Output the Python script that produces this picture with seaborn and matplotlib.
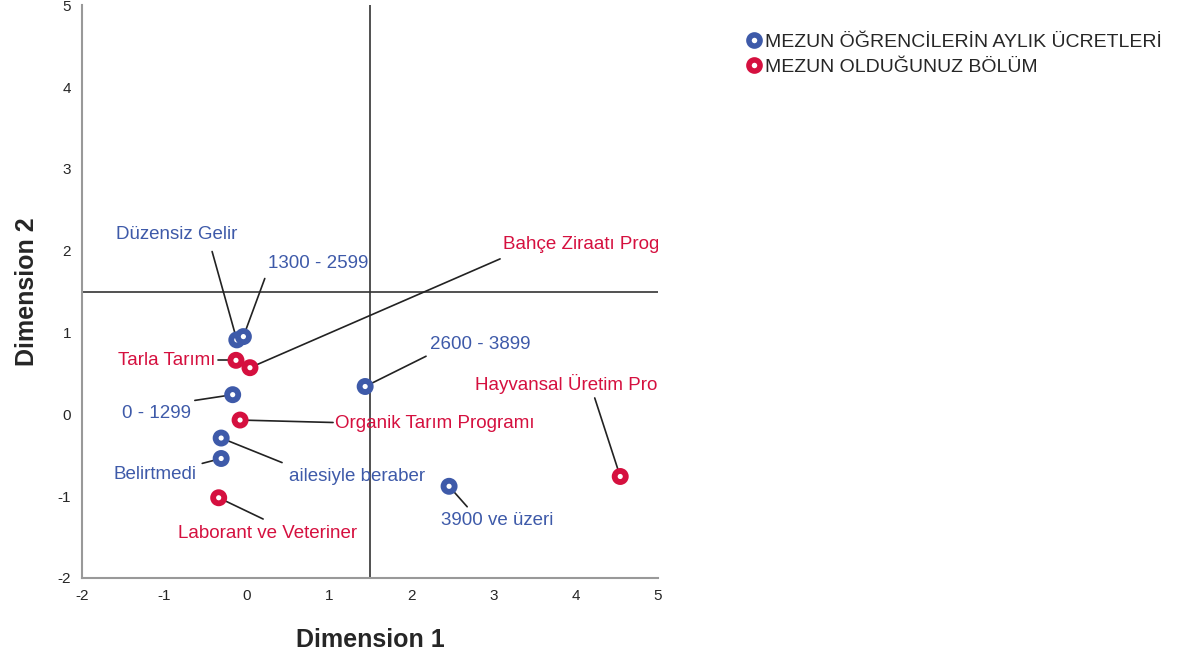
import pandas as pd
import matplotlib.pyplot as plt
import seaborn as sns
from matplotlib.lines import Line2D

# Category points (two variables of the correspondence analysis)
ucret_labels = ['Düzensiz Gelir', '1300 - 2599', '2600 - 3899', '0 - 1299',
                'ailesiyle beraber', 'Belirtmedi', '3900 ve üzeri']
ucret_dim1 = [-0.12, -0.04, 1.44, -0.17, -0.31, -0.31, 2.46]
ucret_dim2 = [0.91, 0.95, 0.34, 0.24, -0.29, -0.54, -0.88]

bolum_labels = ['Tarla Tarımı', 'Bahçe Ziraatı Programı', 'Organik Tarım Programı',
                'Laborant ve Veteriner', 'Hayvansal Üretim Programı']
bolum_dim1 = [-0.13, 0.04, -0.08, -0.34, 4.54]
bolum_dim2 = [0.66, 0.57, -0.07, -1.02, -0.76]

group_names = ['MEZUN ÖĞRENCİLERİN AYLIK ÜCRETLERİ', 'MEZUN OLDUĞUNUZ BÖLÜM']
colors = ['#3e5aa9', '#d5103f']

# label position (text anchor), leader line end, alignment
label_pos = {
    'Düzensiz Gelir': ((-0.85, 2.20), (-0.42, 1.99), 'center'),
    '1300 - 2599': ((0.87, 1.84), (0.22, 1.66), 'center'),
    '2600 - 3899': ((2.23, 0.85), (2.18, 0.71), 'left'),
    '0 - 1299': ((-1.09, 0.01), (-0.63, 0.17), 'center'),
    'ailesiyle beraber': ((1.34, -0.76), (0.43, -0.59), 'center'),
    'Belirtmedi': ((-1.11, -0.74), (-0.54, -0.60), 'center'),
    '3900 ve üzeri': ((3.05, -1.30), (2.68, -1.13), 'center'),
    'Tarla Tarımı': ((-0.38, 0.66), (-0.35, 0.66), 'right'),
    'Bahçe Ziraatı Programı': ((3.12, 2.07), (3.08, 1.90), 'left'),
    'Organik Tarım Programı': ((1.07, -0.11), (1.05, -0.10), 'left'),
    'Laborant ve Veteriner': ((0.25, -1.46), (0.20, -1.28), 'center'),
    'Hayvansal Üretim Programı': ((2.78, 0.37), (4.23, 0.20), 'left'),
}

df = pd.DataFrame({
    'label': ucret_labels + bolum_labels,
    'dim1': ucret_dim1 + bolum_dim1,
    'dim2': ucret_dim2 + bolum_dim2,
    'group': [group_names[0]] * len(ucret_labels) + [group_names[1]] * len(bolum_labels),
})

sns.set_style("white")
plt.rcParams['font.family'] = ['Liberation Sans', 'DejaVu Sans']
plt.rcParams['axes.unicode_minus'] = False

fig = plt.figure(figsize=(11.9, 6.62), dpi=100)
ax = fig.add_axes([0.069, 0.127, 0.484, 0.865])

ax.axvline(1.5, color='#333333', lw=1.2, zorder=1)
ax.axhline(1.5, color='#333333', lw=1.2, zorder=1)

# leader lines
for _, r in df.iterrows():
    (tx, ty), (lx, ly), ha = label_pos[r['label']]
    ax.plot([r['dim1'], lx], [r['dim2'], ly], color='#222222', lw=1.2, zorder=2)

sns.scatterplot(data=df, x='dim1', y='dim2', hue='group', palette=colors,
                s=64, linewidth=4.2, legend=False, ax=ax, zorder=3)
# ring markers: hue colour on the edge, white centre
for coll in ax.collections:
    fc = coll.get_facecolors()
    coll.set_edgecolors(fc)
    coll.set_facecolors('white')

for _, r in df.iterrows():
    (tx, ty), (lx, ly), ha = label_pos[r['label']]
    c = colors[group_names.index(r['group'])]
    ax.text(tx, ty, r['label'], color=c, fontsize=13.5, ha=ha, va='center',
            clip_on=True, zorder=4)

ax.set_xlim(-2, 5)
ax.set_ylim(-2, 5)
ax.set_xticks(range(-2, 6))
ax.set_yticks(range(-2, 6))
ax.tick_params(length=0, labelsize=11, pad=8)
for s in ['top', 'right']:
    ax.spines[s].set_visible(False)
for s in ['left', 'bottom']:
    ax.spines[s].set_color('#999999')
    ax.spines[s].set_linewidth(1.5)

ax.set_xlabel('Dimension 1', fontsize=18, fontweight='bold', labelpad=18)
ax.set_ylabel('Dimension 2', fontsize=18, fontweight='bold', labelpad=13)

handles = [Line2D([0], [0], marker='o', color='none', markerfacecolor='white',
                  markeredgecolor=c, markeredgewidth=4, markersize=8)
           for c in colors]
fig.legend(handles, group_names, loc='upper left', bbox_to_anchor=(0.621, 0.962),
           frameon=False, fontsize=14, handlelength=0.7, handletextpad=0.25,
           labelspacing=0.38, borderaxespad=0)

fig.savefig('out.png', dpi=100)
